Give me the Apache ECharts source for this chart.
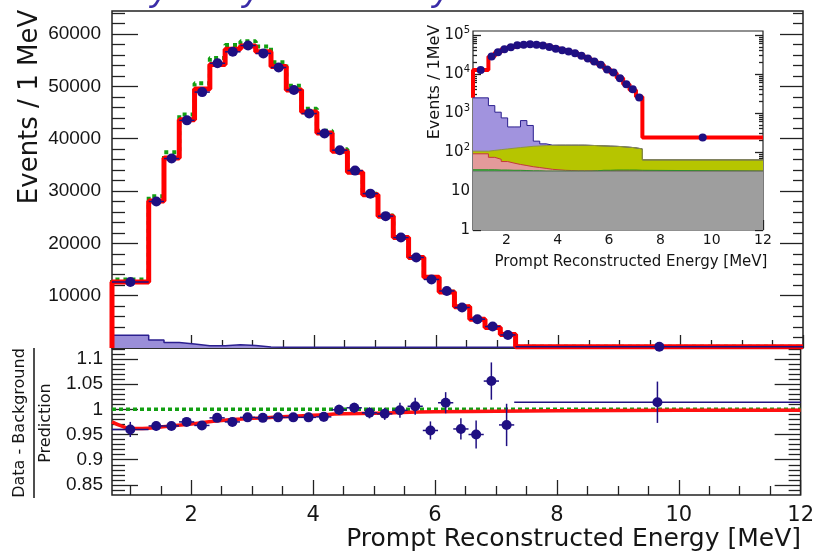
<!DOCTYPE html>
<html>
<head>
<meta charset="utf-8">
<title>Prompt reconstructed energy</title>
<script src="https://cdn.jsdelivr.net/npm/echarts@6/dist/echarts.min.js"></script>
<style>
  html, body { margin: 0; padding: 0; background: #fff; }
  #chart { width: 817px; height: 555px; }
</style>
</head>
<body>
<div id="chart"></div>
<script>
// histogram bin edges [MeV]
const binEdges = [0.7, 1.3, 1.55, 1.8, 2.05, 2.3, 2.55, 2.8, 3.05, 3.3, 3.55, 3.8, 4.05, 4.3, 4.55,
  4.8, 5.05, 5.3, 5.55, 5.8, 6.05, 6.3, 6.55, 6.8, 7.05, 7.3, 12];

// events / 1 MeV
const dataCounts = [12600, 28000, 36200, 43500, 48900, 54400, 56600, 57800, 56300, 53600, 49300, 44800,
  41000, 37800, 33900, 29500, 25200, 21100, 17300, 13100, 10900, 7750, 5500, 4100, 2500, 235];
const fitCounts = [12600, 28100, 36300, 43600, 49500, 54200, 57100, 57700, 56600, 53800, 49300, 45100,
  41100, 37600, 33600, 29300, 25200, 21100, 17300, 13500, 10700, 7900, 5500, 3900, 2600, 235];
const noOscCounts = [13100, 29000, 37400, 44600, 50600, 55400, 57900, 58600, 57600, 54600, 50100, 45700,
  41500, 38000, 33900, 29500, 25300, 21200, 17350, 13550, 10750, 7950, 5530, 3920, 2610, 236];
const bkgTotal = [2450, 1550, 1050, 750, 440, 440, 640, 480, 190, 162, 150, 150, 150, 150, 150, 150,
  148, 146, 144, 142, 140, 137, 133, 128, 120, 63];

// inset background stack (top edge of each layer)
const insetOliveTop = [105, 110, 115, 120, 125, 130, 135, 140, 143, 146, 148, 150, 150, 150, 150, 150,
  148, 146, 144, 142, 140, 137, 133, 128, 120, 63];
const insetPinkTop = [90, 73, 65, 57, 52, 48, 45, 42, 40, 38, 36, 35, 34, 33.5, 33, 33, 33, 33, 33, 33,
  33, 33, 33, 33, 33, 32.5];
const insetGreenTop = [35, 35, 34.5, 34.5, 34, 34, 33.5, 33, 33, 32.5, 32.5, 32.5, 32.5, 32.5, 32.5, 32.5,
  32.5, 33, 34, 34, 34.5, 34.5, 34.5, 34.5, 34, 32.5];
const insetGrayTop = [32, 32, 32, 32, 32, 32, 32, 32, 32, 32, 32, 32, 32, 32, 32, 32, 32, 32, 32, 32,
  32, 32, 32, 32, 32, 32];

// (data - background) / prediction
const ratioValues = [0.960, 0.967, 0.967, 0.975, 0.968, 0.983, 0.975, 0.984, 0.983, 0.984, 0.984, 0.984,
  0.985, 0.999, 1.003, 0.993, 0.991, 0.998, 1.006, 0.958, 1.013, 0.961, 0.950, 1.056, 0.969, 1.014];
const ratioErrors = [0.015, 0.009, 0.008, 0.008, 0.008, 0.008, 0.008, 0.008, 0.008, 0.008, 0.008, 0.009,
  0.009, 0.010, 0.010, 0.011, 0.012, 0.015, 0.017, 0.018, 0.021, 0.021, 0.028, 0.037, 0.042, 0.041];
const ratioFitX = [0.7, 0.85, 1.0, 1.2, 1.5, 2.0, 2.5, 3.0, 3.5, 4.0, 4.5, 5.0, 6.0, 7.0, 8.0, 10.0, 12.0];
const ratioFitY = [0.975, 0.967, 0.962, 0.962, 0.965, 0.971, 0.978, 0.982, 0.985, 0.988, 0.991, 0.992,
  0.995, 0.996, 0.997, 0.998, 0.998];

// tick positions
const xMajorTicks = [2, 4, 6, 8, 10, 12];
const xMinorTicks = [1, 1.5, 2.5, 3, 3.5, 4.5, 5, 5.5, 6.5, 7, 7.5, 8.5, 9, 9.5, 10.5, 11, 11.5];
const countMajorTicks = [10000, 20000, 30000, 40000, 50000, 60000];
const ratioMajorTicks = [0.85, 0.9, 0.95, 1, 1.05, 1.1];
const logMajorTicks = [1, 10, 100, 1000, 10000, 100000];

const countMinorTicks = [];
for (let v = 2000; v <= 64000; v += 2000) if (v % 10000) countMinorTicks.push(v);
const ratioMinorTicks = [];
for (let k = 84; k <= 112; k++) if (k % 5) ratioMinorTicks.push(k / 100);
const logMinorTicks = [];
logMajorTicks.forEach(d => { for (let k = 2; k <= 9; k++) if (d * k < 127000) logMinorTicks.push(d * k); });

const binCenters = binEdges.slice(0, -1).map((e, i) => (e + binEdges[i + 1]) / 2);

function histSteps(values, floor) {
  const pts = floor === undefined ? [] : [[binEdges[0], floor]];
  values.forEach((v, i) => pts.push([binEdges[i], v]));
  pts.push([binEdges[binEdges.length - 1], values[values.length - 1]]);
  return pts;
}

const ink = '#151515';
const dotColor = '#1f0f82';
const tickLine = { color: '#222', width: 1.3 };

function makeAxis(gridIndex, type, min, max, position, ticks, len, label) {
  return {
    type, gridIndex, min, max, position, logBase: 10,
    axisLine: { show: false },
    splitLine: { show: false },
    axisTick: { show: true, inside: true, length: len, customValues: ticks, lineStyle: tickLine },
    axisLabel: label ? Object.assign({ show: true, color: ink }, label) : { show: false }
  };
}

function stepSeries(xi, yi, pts, color, width, extra) {
  return Object.assign({
    type: 'line', xAxisIndex: xi, yAxisIndex: yi, step: 'end', data: pts,
    symbol: 'none', silent: true, lineStyle: { color, width }
  }, extra || {});
}

function dotSeries(xi, yi, pts, size) {
  return {
    type: 'scatter', xAxisIndex: xi, yAxisIndex: yi, silent: true, z: 6, symbolSize: size,
    itemStyle: { color: dotColor, opacity: 1 }, data: pts
  };
}

function barsSeries(xi, yi, items, z) {
  return {
    type: 'custom', xAxisIndex: xi, yAxisIndex: yi, silent: true, z,
    data: items, encode: { x: 0, y: 1 },
    renderItem(params, api) {
      const xc = api.value(0), y = api.value(1), e = api.value(4);
      const a = api.coord([api.value(2), y]), b = api.coord([api.value(3), y]);
      const style = { stroke: dotColor, lineWidth: 1.5 };
      const children = [{ type: 'line', shape: { x1: a[0], y1: a[1], x2: b[0], y2: b[1] }, style }];
      if (e > 0) {
        const lo = api.coord([xc, y - e]), hi = api.coord([xc, y + e]);
        children.push({ type: 'line', shape: { x1: lo[0], y1: lo[1], x2: hi[0], y2: hi[1] }, style });
      }
      return { type: 'group', children };
    }
  };
}

const tickFont = { fontFamily: 'Liberation Sans', fontSize: 19, formatter: v => String(v) };

const chart = echarts.init(document.getElementById('chart'));
chart.setOption({
  animation: false,
  backgroundColor: '#fff',
  grid: [
    { left: 112, right: 14, top: 11, bottom: 207, show: true, borderColor: '#222', borderWidth: 1.5 },
    { left: 112, right: 14, top: 348, bottom: 60, show: true, borderColor: '#222', borderWidth: 1.5 },
    { left: 473, right: 54, top: 31, bottom: 325, show: true, backgroundColor: '#fff', borderColor: '#222', borderWidth: 1.2 }
  ],
  xAxis: [
    makeAxis(0, 'value', 0.7, 12, 'bottom', xMajorTicks, 13),
    makeAxis(0, 'value', 0.7, 12, 'bottom', xMinorTicks, 8),
    makeAxis(1, 'value', 0.7, 12, 'bottom', xMajorTicks, 15,
      { customValues: xMajorTicks, fontFamily: 'DejaVu Sans', fontSize: 21, margin: 10 }),
    makeAxis(1, 'value', 0.7, 12, 'bottom', xMinorTicks, 9),
    makeAxis(2, 'value', 0.7, 12, 'bottom', xMajorTicks, 10,
      { customValues: xMajorTicks, fontFamily: 'DejaVu Sans', fontSize: 14, margin: 3 }),
    makeAxis(2, 'value', 0.7, 12, 'bottom', xMinorTicks, 6)
  ],
  yAxis: [
    makeAxis(0, 'value', 0, 64400, 'left', countMajorTicks, 26,
      Object.assign({ customValues: countMajorTicks, margin: 11 }, tickFont)),
    makeAxis(0, 'value', 0, 64400, 'left', countMinorTicks, 13),
    makeAxis(0, 'value', 0, 64400, 'right', countMajorTicks, 23),
    makeAxis(0, 'value', 0, 64400, 'right', countMinorTicks, 10),
    makeAxis(1, 'value', 0.83, 1.1216, 'left', ratioMajorTicks, 26,
      Object.assign({ customValues: ratioMajorTicks, margin: 9 }, tickFont)),
    makeAxis(1, 'value', 0.83, 1.1216, 'left', ratioMinorTicks, 13),
    makeAxis(1, 'value', 0.83, 1.1216, 'right', ratioMajorTicks, 26),
    makeAxis(1, 'value', 0.83, 1.1216, 'right', ratioMinorTicks, 12),
    makeAxis(2, 'log', 1, 127000, 'left', logMajorTicks, 8, {
      customValues: logMajorTicks, fontFamily: 'DejaVu Sans', fontSize: 15, margin: 3,
      formatter: v => v < 100 ? String(Math.round(v)) : '10{sup|' + Math.round(Math.log10(v)) + '}',
      rich: { sup: { fontSize: 10, fontFamily: 'DejaVu Sans', color: ink, padding: [0, 0, 9, 0] } }
    }),
    makeAxis(2, 'log', 1, 127000, 'left', logMinorTicks, 4),
    makeAxis(2, 'log', 1, 127000, 'right', logMajorTicks, 8),
    makeAxis(2, 'log', 1, 127000, 'right', logMinorTicks, 4)
  ],
  series: [
    // main panel
    stepSeries(0, 0, histSteps(bkgTotal, 0), '#2b1f8f', 1.5,
      { areaStyle: { color: '#9a8ed8', opacity: 1, origin: 'start' }, z: 2 }),
    stepSeries(0, 0, histSteps(noOscCounts, 0), '#12a012', 4,
      { lineStyle: { color: '#12a012', width: 4, type: [4, 4] }, z: 3 }),
    stepSeries(0, 0, histSteps(fitCounts, 0), '#ff0000', 5, { z: 4 }),
    barsSeries(0, 0, dataCounts.map((v, i) => [binCenters[i], v, binEdges[i], binEdges[i + 1], 0]), 5),
    dotSeries(0, 0, dataCounts.map((v, i) => [binCenters[i], v]), 10),
    // ratio panel
    {
      type: 'line', xAxisIndex: 2, yAxisIndex: 4, silent: true, symbol: 'none', z: 3,
      lineStyle: { color: '#12a012', width: 3.5, type: [4, 3] },
      data: [[0.7, 1], [12, 1]]
    },
    {
      type: 'line', xAxisIndex: 2, yAxisIndex: 4, silent: true, symbol: 'none', smooth: true, z: 4,
      lineStyle: { color: '#ff1010', width: 3.5 },
      data: ratioFitX.map((x, i) => [x, ratioFitY[i]])
    },
    barsSeries(2, 4, ratioValues.map((v, i) => [binCenters[i], v, binEdges[i], binEdges[i + 1], ratioErrors[i]]), 5),
    dotSeries(2, 4, ratioValues.map((v, i) => [binCenters[i], v]), 10),
    // inset, log scale
    stepSeries(4, 8, histSteps(fitCounts, bkgTotal[0]), '#ff0000', 4, { z: 2 }),
    stepSeries(4, 8, histSteps(bkgTotal), '#2b1f8f', 1,
      { areaStyle: { color: '#a193de', opacity: 1, origin: 'start' }, z: 3 }),
    stepSeries(4, 8, histSteps(insetOliveTop), '#8f9640', 1,
      { areaStyle: { color: '#b6c500', opacity: 1, origin: 'start' }, z: 3 }),
    stepSeries(4, 8, histSteps(insetPinkTop), '#c23a3a', 1,
      { areaStyle: { color: '#e39a9a', opacity: 1, origin: 'start' }, z: 3 }),
    stepSeries(4, 8, histSteps(insetGreenTop), '#1f8f1f', 1,
      { areaStyle: { color: '#3aa83a', opacity: 1, origin: 'start' }, z: 3 }),
    stepSeries(4, 8, histSteps(insetGrayTop), '#808080', 1,
      { areaStyle: { color: '#9e9e9e', opacity: 1, origin: 'start' }, z: 3 }),
    dotSeries(4, 8, dataCounts.map((v, i) => [binCenters[i], v]), 8)
  ],
  graphic: [
    { type: 'text', x: 105, y: -28, z: 10, style: { text: 'Daya Bay Preliminary', font: 'italic 36px "Liberation Sans"', fill: '#3a2ca8', textAlign: 'left', textVerticalAlign: 'top' } },
    { type: 'text', x: 30, y: 107, rotation: Math.PI / 2, z: 10, style: { text: 'Events / 1 MeV', font: '26px "DejaVu Sans"', fill: ink, textAlign: 'center', textVerticalAlign: 'middle' } },
    { type: 'text', x: 801, y: 539, z: 10, style: { text: 'Prompt Reconstructed Energy [MeV]', font: '25px "DejaVu Sans"', fill: ink, textAlign: 'right', textVerticalAlign: 'middle' } },
    { type: 'text', x: 20, y: 423, rotation: Math.PI / 2, z: 10, style: { text: 'Data - Background', font: '16px "DejaVu Sans"', fill: ink, textAlign: 'center', textVerticalAlign: 'middle' } },
    { type: 'line', z: 10, shape: { x1: 34, y1: 348, x2: 34, y2: 498 }, style: { stroke: ink, lineWidth: 1.5 } },
    { type: 'text', x: 46, y: 423, rotation: Math.PI / 2, z: 10, style: { text: 'Prediction', font: '16px "DejaVu Sans"', fill: ink, textAlign: 'center', textVerticalAlign: 'middle' } },
    { type: 'text', x: 435, y: 82, rotation: Math.PI / 2, z: 10, style: { text: 'Events / 1MeV', font: '16px "DejaVu Sans"', fill: ink, textAlign: 'center', textVerticalAlign: 'middle' } },
    { type: 'text', x: 631, y: 262, z: 10, style: { text: 'Prompt Reconstructed Energy [MeV]', font: '15px "DejaVu Sans"', fill: ink, textAlign: 'center', textVerticalAlign: 'middle' } }
  ]
});
</script>
</body>
</html>
